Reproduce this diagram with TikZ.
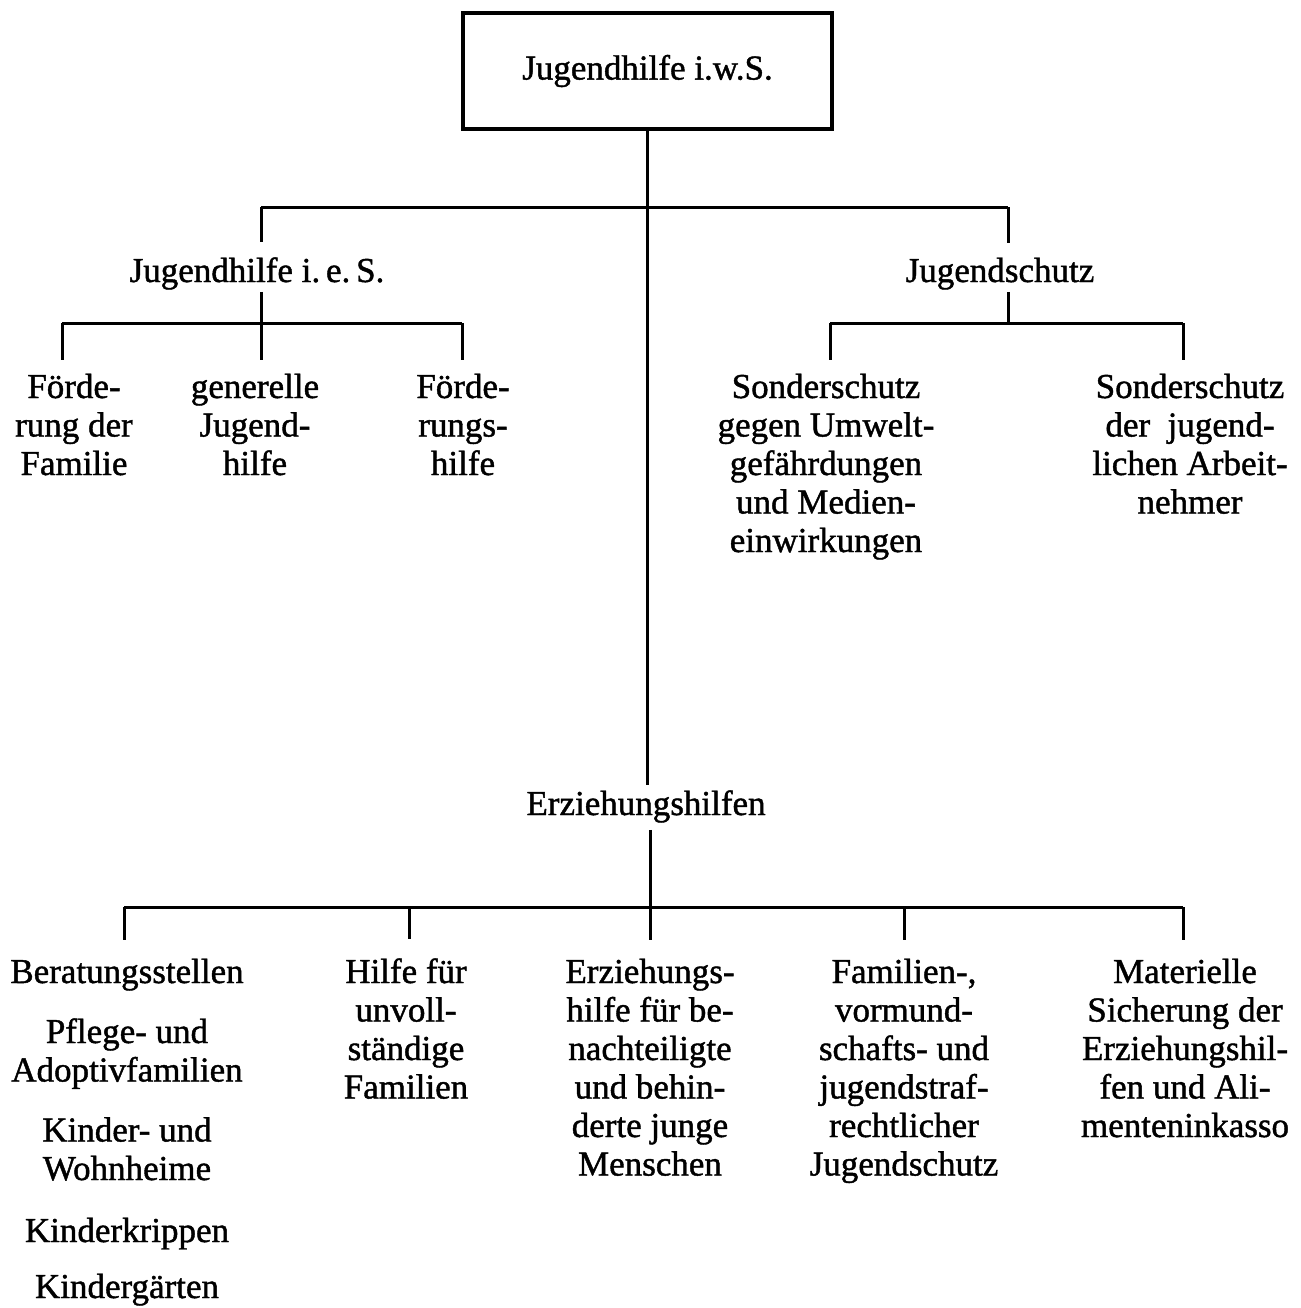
\documentclass[tikz,border=0pt]{standalone}
\usepackage{fontspec}
\setmainfont{Liberation Serif}[RawFeature={embolden=1.2}]
\begin{document}
\begin{tikzpicture}[x=1pt,y=-1pt,
  lbl/.style={inner sep=0pt, align=center, font=\fontsize{35}{38.5}\selectfont, anchor=base},
  conn/.style={line width=3pt}]
\useasboundingbox (0,0) rectangle (1300,1308);
% nodes (anchor=base is the baseline of the last line)
\node[draw, line width=3.5pt, minimum width=369pt, minimum height=116pt, inner sep=0pt,
      font=\fontsize{35}{38.5}\selectfont] (root) at (647.5,71) {Jugendhilfe i.w.S.};
\node[lbl] (jhies) at (257,282) {Jugendhilfe i.\,e.\,S.};
\node[lbl] (js) at (1000,282) {Jugendschutz};
\node[lbl] (f1) at (74,475) {Förde-\\rung der\\Familie};
\node[lbl] (f2) at (255,475) {generelle\\Jugend-\\hilfe};
\node[lbl] (f3) at (463,475) {Förde-\\rungs-\\hilfe};
\node[lbl] (s1) at (826,552) {Sonderschutz\\gegen Umwelt-\\gefährdungen\\und Medien-\\einwirkungen};
\node[lbl] (s2) at (1190,513.5) {Sonderschutz\\der\ \ jugend-\\lichen Arbeit-\\nehmer};
\node[lbl] (ez) at (646,815) {Erziehungshilfen};
\node[lbl] (e1) at (127,1298) {Beratungsstellen\\[21.5pt]Pflege- und\\Adoptivfamilien\\[21.5pt]Kinder- und\\Wohnheime\\[23.5pt]Kinderkrippen\\[17.5pt]Kindergärten};
\node[lbl] (e2) at (406,1098.5) {Hilfe für\\unvoll-\\ständige\\Familien};
\node[lbl] (e3) at (650,1175.5) {Erziehungs-\\hilfe für be-\\nachteiligte\\und behin-\\derte junge\\Menschen};
\node[lbl] (e4) at (904,1175.5) {Familien-,\\vormund-\\schafts- und\\jugendstraf-\\rechtlicher\\Jugendschutz};
\node[lbl] (e5) at (1185,1137) {Materielle\\Sicherung der\\Erziehungshil-\\fen und Ali-\\menteninkasso};
% junctions
\coordinate (j1a) at (261,207);
\coordinate (j1c) at (1008,207);
\coordinate (j2a) at (62,323);
\coordinate (j2b) at (261,323);
\coordinate (j2c) at (462,323);
\coordinate (j2d) at (830,323);
\coordinate (j2e) at (1008,323);
\coordinate (j2f) at (1183,323);
\coordinate (j3a) at (124,907);
\coordinate (j3b) at (409,907);
\coordinate (j3c) at (650,907);
\coordinate (j3d) at (904,907);
\coordinate (j3e) at (1183,907);
% connectors
\draw[conn] (root.south) -- ([yshift=5pt]root.south |- ez.north);
\draw[conn] (j1a) -- (j1c);
\draw[conn] (j1a) -- ([yshift=15pt]j1a |- jhies.north);
\draw[conn] (j1c) -- ([yshift=15pt]j1c |- js.north);
\draw[conn] ([yshift=-2pt]j2b |- jhies.south) -- (j2b);
\draw[conn] (j2a) -- (j2c);
\draw[conn] (j2a) -- ([yshift=14pt]j2a |- f1.north);
\draw[conn] (j2b) -- ([yshift=14pt]j2b |- f2.north);
\draw[conn] (j2c) -- ([yshift=14pt]j2c |- f3.north);
\draw[conn] ([yshift=-2pt]j2e |- js.south) -- (j2e);
\draw[conn] (j2d) -- (j2f);
\draw[conn] (j2d) -- ([yshift=14pt]j2d |- s1.north);
\draw[conn] (j2f) -- ([yshift=14pt]j2f |- s2.north);
\draw[conn] ([yshift=-7pt]j3c |- ez.south) -- (j3c);
\draw[conn] (j3a) -- (j3e);
\draw[conn] (j3a) -- ([yshift=19pt]j3a |- e1.north);
\draw[conn] (j3b) -- ([yshift=19pt]j3b |- e2.north);
\draw[conn] (j3c) -- ([yshift=19pt]j3c |- e3.north);
\draw[conn] (j3d) -- ([yshift=19pt]j3d |- e4.north);
\draw[conn] (j3e) -- ([yshift=19pt]j3e |- e5.north);
\end{tikzpicture}
\end{document}
